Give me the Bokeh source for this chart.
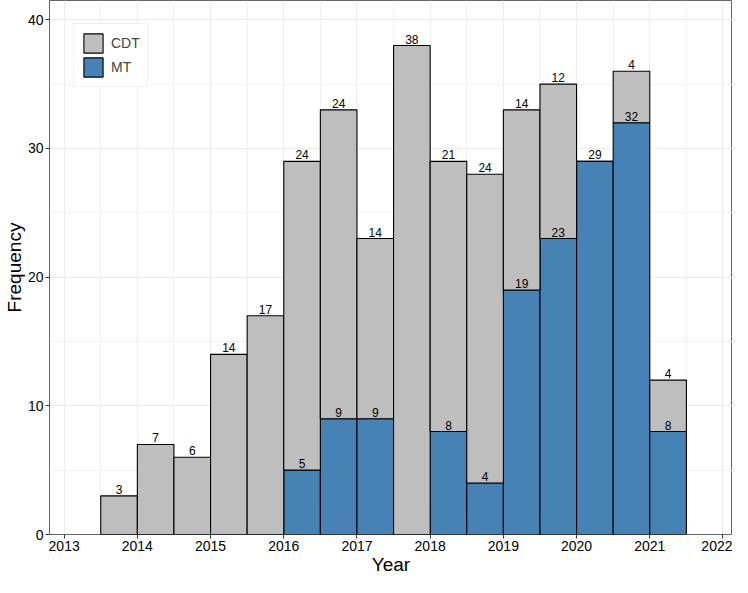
from bokeh.plotting import figure
from bokeh.models import FixedTicker, Legend, LegendItem, ColumnDataSource
from bokeh.embed import file_html
from bokeh.resources import INLINE
from bokeh.core.properties import value

# ---- data ----
bin_start = [2013.5, 2014.0, 2014.5, 2015.0, 2015.5, 2016.0, 2016.5, 2017.0,
             2017.5, 2018.0, 2018.5, 2019.0, 2019.5, 2020.0, 2020.5, 2021.0]
cdt = [3, 7, 6, 14, 17, 24, 24, 14, 38, 21, 24, 14, 12, 0, 4, 4]
mt = [0, 0, 0, 0, 0, 5, 9, 9, 0, 8, 4, 19, 23, 29, 32, 8]
x_ticks = [2013, 2014, 2015, 2016, 2017, 2018, 2019, 2020, 2021, 2022]
x_minor = [2012.5, 2013.5, 2014.5, 2015.5, 2016.5, 2017.5, 2018.5, 2019.5,
           2020.5, 2021.5, 2022.5]
y_ticks = [0, 10, 20, 30, 40]
y_minor = [5, 15, 25, 35]
BIN_W = 0.5

FONT = "Liberation Sans"
GREY = "#BEBEBE"
BLUE = "#4682B4"

left = bin_start
right = [b + BIN_W for b in bin_start]
centers = [b + BIN_W / 2 for b in bin_start]
total = [c + m for c, m in zip(cdt, mt)]

p = figure(width=732, height=577, x_range=(2012.80, 2022.13), y_range=(0, 41.5),
           output_backend="svg", toolbar_location=None,
           min_border_left=0, min_border_right=0, min_border_top=0, min_border_bottom=0)

mt_src = ColumnDataSource(dict(left=left, right=right, bottom=[0] * len(mt), top=mt))
cdt_src = ColumnDataSource(dict(left=left, right=right, bottom=mt, top=total))

r_mt = p.quad(left="left", right="right", bottom="bottom", top="top", source=mt_src,
              fill_color=BLUE, line_color="black", line_width=1.1)
r_cdt = p.quad(left="left", right="right", bottom="bottom", top="top", source=cdt_src,
               fill_color=GREY, line_color="black", line_width=1.1)

# value labels
lab_x = [x for x, c in zip(centers, cdt) if c > 0] + [x for x, m in zip(centers, mt) if m > 0]
lab_y = [t for t, c in zip(total, cdt) if c > 0] + [m for m in mt if m > 0]
lab_t = [str(c) for c in cdt if c > 0] + [str(m) for m in mt if m > 0]
lab_src = ColumnDataSource(dict(x=lab_x, y=lab_y, t=lab_t))
p.text(x="x", y="y", text="t", source=lab_src, text_align="center", text_baseline="bottom",
       y_offset=-2, text_font=value(FONT), text_font_size="12px", text_color="#000000")

# axes & grid
xt = FixedTicker(ticks=x_ticks, minor_ticks=x_minor)
yt = FixedTicker(ticks=y_ticks, minor_ticks=y_minor)
p.xaxis.ticker = xt
p.yaxis.ticker = yt
p.xgrid.ticker = xt
p.ygrid.ticker = yt
for g in (p.xgrid, p.ygrid):
    g.grid_line_color = "#EBEBEB"
    g.grid_line_width = 1
    g.minor_grid_line_color = "#F1F1F1"
    g.minor_grid_line_width = 1

for ax in (p.xaxis, p.yaxis):
    ax.axis_line_color = None
    ax.major_tick_line_color = "#333333"
    ax.major_tick_out = 4
    ax.major_tick_in = 0
    ax.minor_tick_line_color = None
    ax.major_label_text_font = FONT
    ax.major_label_text_font_size = "14px"
    ax.major_label_text_color = "black"
    ax.axis_label_text_font = FONT
    ax.axis_label_text_font_size = "19px"
    ax.axis_label_text_font_style = "normal"
    ax.axis_label_text_color = "black"
    ax.major_label_standoff = 2
    ax.axis_label_standoff = 0

p.xaxis.axis_label = "Year"
p.yaxis.axis_label = "Frequency"

p.outline_line_color = "#666666"
p.outline_line_width = 1
p.background_fill_color = "white"
p.border_fill_color = "white"

legend = Legend(items=[LegendItem(label="CDT", renderers=[r_cdt]),
                       LegendItem(label="MT", renderers=[r_mt])])
legend.location = (24, 447)
legend.glyph_width = 24
legend.glyph_height = 24
legend.spacing = 0
legend.padding = 7
legend.margin = 0
legend.label_standoff = 6
legend.label_text_font = FONT
legend.label_text_font_size = "14px"
legend.label_height = 20
legend.border_line_color = "#E3E3E3"
legend.border_line_width = 1
legend.background_fill_color = "white"
legend.background_fill_alpha = 1
p.add_layout(legend)

open("out.html", "w").write(file_html(p, INLINE))
